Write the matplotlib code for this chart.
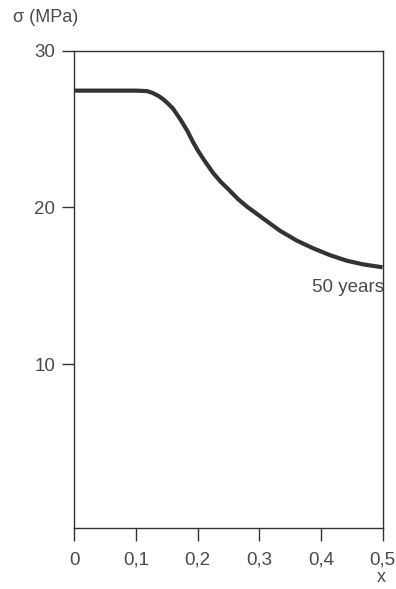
import matplotlib.pyplot as plt
import numpy as np

# stress profile across the section after 50 years
x = [0.0, 0.05, 0.10, 0.118, 0.127, 0.136, 0.144, 0.152, 0.160, 0.171, 0.183,
     0.192, 0.200, 0.209, 0.225, 0.237, 0.250, 0.265, 0.280, 0.306, 0.334,
     0.361, 0.387, 0.415, 0.442, 0.468, 0.5]
sigma = [27.45, 27.45, 27.45, 27.42, 27.3, 27.12, 26.9, 26.62, 26.3, 25.67, 24.9,
         24.2, 23.65, 23.1, 22.2, 21.65, 21.15, 20.55, 20.05, 19.3, 18.5,
         17.88, 17.4, 16.95, 16.6, 16.37, 16.18]
yticks = [10, 20, 30]
xticks = [0, 0.1, 0.2, 0.3, 0.4, 0.5]
xticklabels = ["0", "0,1", "0,2", "0,3", "0,4", "0,5"]
curve_label = "50 years"

plt.rcParams["font.family"] = ["Liberation Sans", "DejaVu Sans"]
ink = "#333333"
txt = "#4a4a4a"

fig = plt.figure(figsize=(3.96, 5.89), dpi=100)
ax = fig.add_axes([0.188, 0.1036, 0.778, 0.8104])

ax.plot(x, sigma, color=ink, lw=3.0, solid_capstyle="butt",
        solid_joinstyle="round")
ax.text(0.503, 14.9, curve_label, ha="right", va="center", fontsize=13.5, color=txt)

ax.set_xlim(0, 0.5)
ax.set_ylim(-0.45, 30)
ax.set_xticks(xticks)
ax.set_xticklabels(xticklabels)
ax.set_yticks(yticks)
ax.tick_params(direction="out", length=9, width=1, colors=ink,
               labelcolor=txt, labelsize=13.5)
ax.tick_params(axis="x", pad=8)
ax.tick_params(axis="y", pad=5)
for s in ax.spines.values():
    s.set_color(ink)
    s.set_linewidth(1.0)

fig.text(13 / 396, 1 - 18 / 589, "σ (MPa)", ha="left", va="center",
         fontsize=13, color=txt)
fig.text(381 / 396, 1 - 577 / 589, "x", ha="center", va="center",
         fontsize=13, color=txt)

fig.savefig("out.png", dpi=100, facecolor="white")
